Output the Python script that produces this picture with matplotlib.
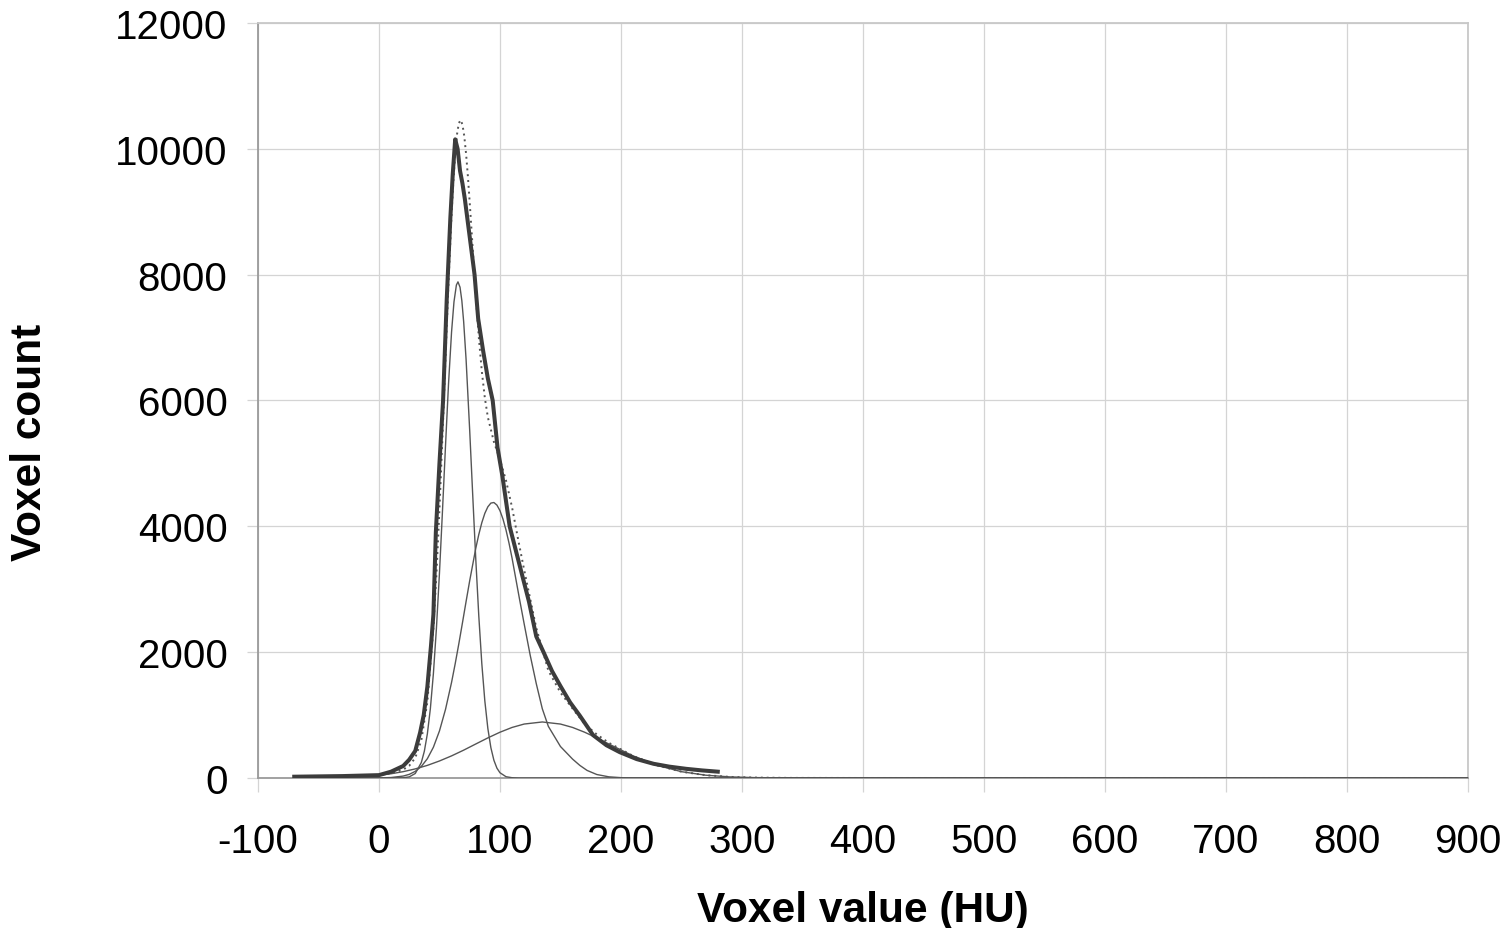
import matplotlib
matplotlib.use("Agg")
import matplotlib.pyplot as plt

plt.rcParams['font.family'] = ['Liberation Sans', 'DejaVu Sans']

# -----------------------
# Data
# -----------------------
# measured histogram (thick line)
hist_x = [-70, -50, -30, -10, 0, 10, 20, 25, 30, 34, 37, 40, 43, 45, 47, 50, 53, 56, 59, 61,
          63, 65, 67, 69, 71, 75, 79, 82, 86, 90, 94, 98, 102, 108, 116, 124, 130, 136, 143, 150,
          158, 166, 177, 188, 199, 213, 227, 240, 254, 267, 280]
hist_y = [20, 25, 30, 40, 45, 100, 190, 290, 430, 720, 1000, 1450, 2100, 2600, 3900, 5000, 6000, 7600, 8900, 9600,
          10150, 10000, 9650, 9450, 9200, 8600, 8000, 7300, 6800, 6350, 6000, 5250, 4800, 4000, 3400, 2800, 2250, 2000, 1700, 1460,
          1200, 990, 680, 520, 410, 300, 225, 180, 145, 120, 100]

# fitted components (thin lines)
comp1_x = [-70, 0, 20, 25, 30, 35, 37.5, 40, 42.5, 45, 47.5, 50, 52.5, 55, 57.5, 60, 62, 64, 65.3, 67,
           68.5, 70, 72, 75, 77.5, 80, 82.5, 85, 87.5, 90, 92.5, 95, 97.5, 100, 105, 110, 115, 130, 900]
comp1_y = [0, 0, 3, 17, 71, 245, 424, 701, 1104, 1661, 2380, 3254, 4245, 5280, 6265, 7089, 7567, 7835, 7885, 7800,
           7586, 7253, 6654, 5521, 4492, 3484, 2577, 1818, 1224, 786, 481, 281, 156, 83, 20, 4, 0, 0, 0]

comp2_x = [-70, 0, 10, 20, 25, 30, 35, 40, 45, 50, 55, 60, 63, 66, 69, 72, 75, 80, 82.5, 85,
           87.5, 90, 92.5, 95, 97.5, 100, 102.5, 105, 107.5, 110, 116, 120, 125, 130, 135, 140, 150, 160, 166, 172,
           180, 190, 200, 210, 900]
comp2_y = [0, 1, 7, 30, 57, 105, 183, 306, 489, 747, 1090, 1519, 1815, 2132, 2465, 2804, 3136, 3649, 3869, 4057,
           4206, 4310, 4369, 4378, 4337, 4249, 4115, 3941, 3731, 3494, 2860, 2450, 1950, 1500, 1100, 820, 500, 300, 200, 120,
           55, 18, 5, 0, 0]

comp3_x = [-70, -40, -20, 0, 10, 20, 30, 40, 50, 60, 70, 80, 90, 100, 110, 120, 135, 150, 160, 170,
           180, 190, 210, 230, 250, 270, 290, 310, 340, 400, 900]
comp3_y = [1, 6, 17, 44, 67, 100, 144, 200, 270, 351, 442, 540, 637, 727, 803, 857, 890, 857, 803, 727,
           637, 540, 351, 200, 100, 44, 17, 6, 1, 0, 0]

# sum of components (dotted line)
fit_x = [-70, -40, -20, 0, 10, 20, 25, 30, 35, 40, 45, 47.5, 50, 52.5, 55, 57.5, 60, 61.5, 63, 64.5,
         66, 67.5, 69, 70.5, 72, 73.5, 75, 77.5, 80, 82.5, 85, 87.5, 90, 95, 100, 105, 110, 115, 120, 130,
         140, 150, 160, 170, 180, 190, 210, 230, 250, 270, 290, 310, 340, 400, 900]
fit_y = [1, 6, 17, 45, 74, 133, 194, 320, 598, 1207, 2383, 3239, 4271, 5441, 6679, 7889, 8959, 9494, 9922, 10228,
         10407, 10458, 10385, 10202, 9920, 9563, 9148, 8410, 7673, 7010, 6464, 6043, 5733, 5342, 5059, 4728, 4301, 3793, 3307, 2386,
         1706, 1357, 1103, 857, 692, 558, 351, 200, 100, 44, 17, 6, 1, 0, 0]

x_ticks = [-100, 0, 100, 200, 300, 400, 500, 600, 700, 800, 900]
y_ticks = [0, 2000, 4000, 6000, 8000, 10000, 12000]

# -----------------------
# Figure
# -----------------------
fig = plt.figure(figsize=(15.12, 9.29), dpi=100)
ax = fig.add_axes([0.1706, 0.1615, 0.8003, 0.8127])

grid_c = '#d4d4d4'
thin_c = '#555555'

ax.plot(comp1_x, comp1_y, color=thin_c, linewidth=1.0, zorder=3)
ax.plot(comp2_x, comp2_y, color=thin_c, linewidth=1.0, zorder=3)
ax.plot(comp3_x, comp3_y, color=thin_c, linewidth=1.0, zorder=3)
ax.plot(fit_x, fit_y, color=thin_c, linewidth=1.4, linestyle=(0, (1, 2)), zorder=4)
ax.plot(hist_x, hist_y, color='#3c3c3c', linewidth=2.9, zorder=5)

ax.set_xlim(-100, 900)
ax.set_ylim(0, 12000)
ax.set_xticks(x_ticks)
ax.set_yticks(y_ticks)
ax.set_xticklabels([str(v) for v in x_ticks])
ax.set_yticklabels([str(v) for v in y_ticks])

ax.grid(True, color=grid_c, linewidth=0.9)
ax.set_axisbelow(True)

ax.tick_params(axis='x', length=10, width=0.9, color=grid_c, pad=22, labelsize=29)
ax.tick_params(axis='y', length=8, width=0.9, color=grid_c, pad=14, labelsize=29)

for side in ['left', 'bottom']:
    ax.spines[side].set_color('#9a9a9a')
    ax.spines[side].set_linewidth(1.3)
for side in ['top', 'right']:
    ax.spines[side].set_color('#c8c8c8')
    ax.spines[side].set_linewidth(1.3)

ax.set_xlabel("Voxel value (HU)", fontsize=30.5, fontweight='bold')
ax.set_ylabel("Voxel count", fontsize=30.5, fontweight='bold')
ax.xaxis.set_label_coords(0.5, -0.148)
ax.yaxis.set_label_coords(-0.172, 0.446)

plt.savefig("out.png", dpi=100)
